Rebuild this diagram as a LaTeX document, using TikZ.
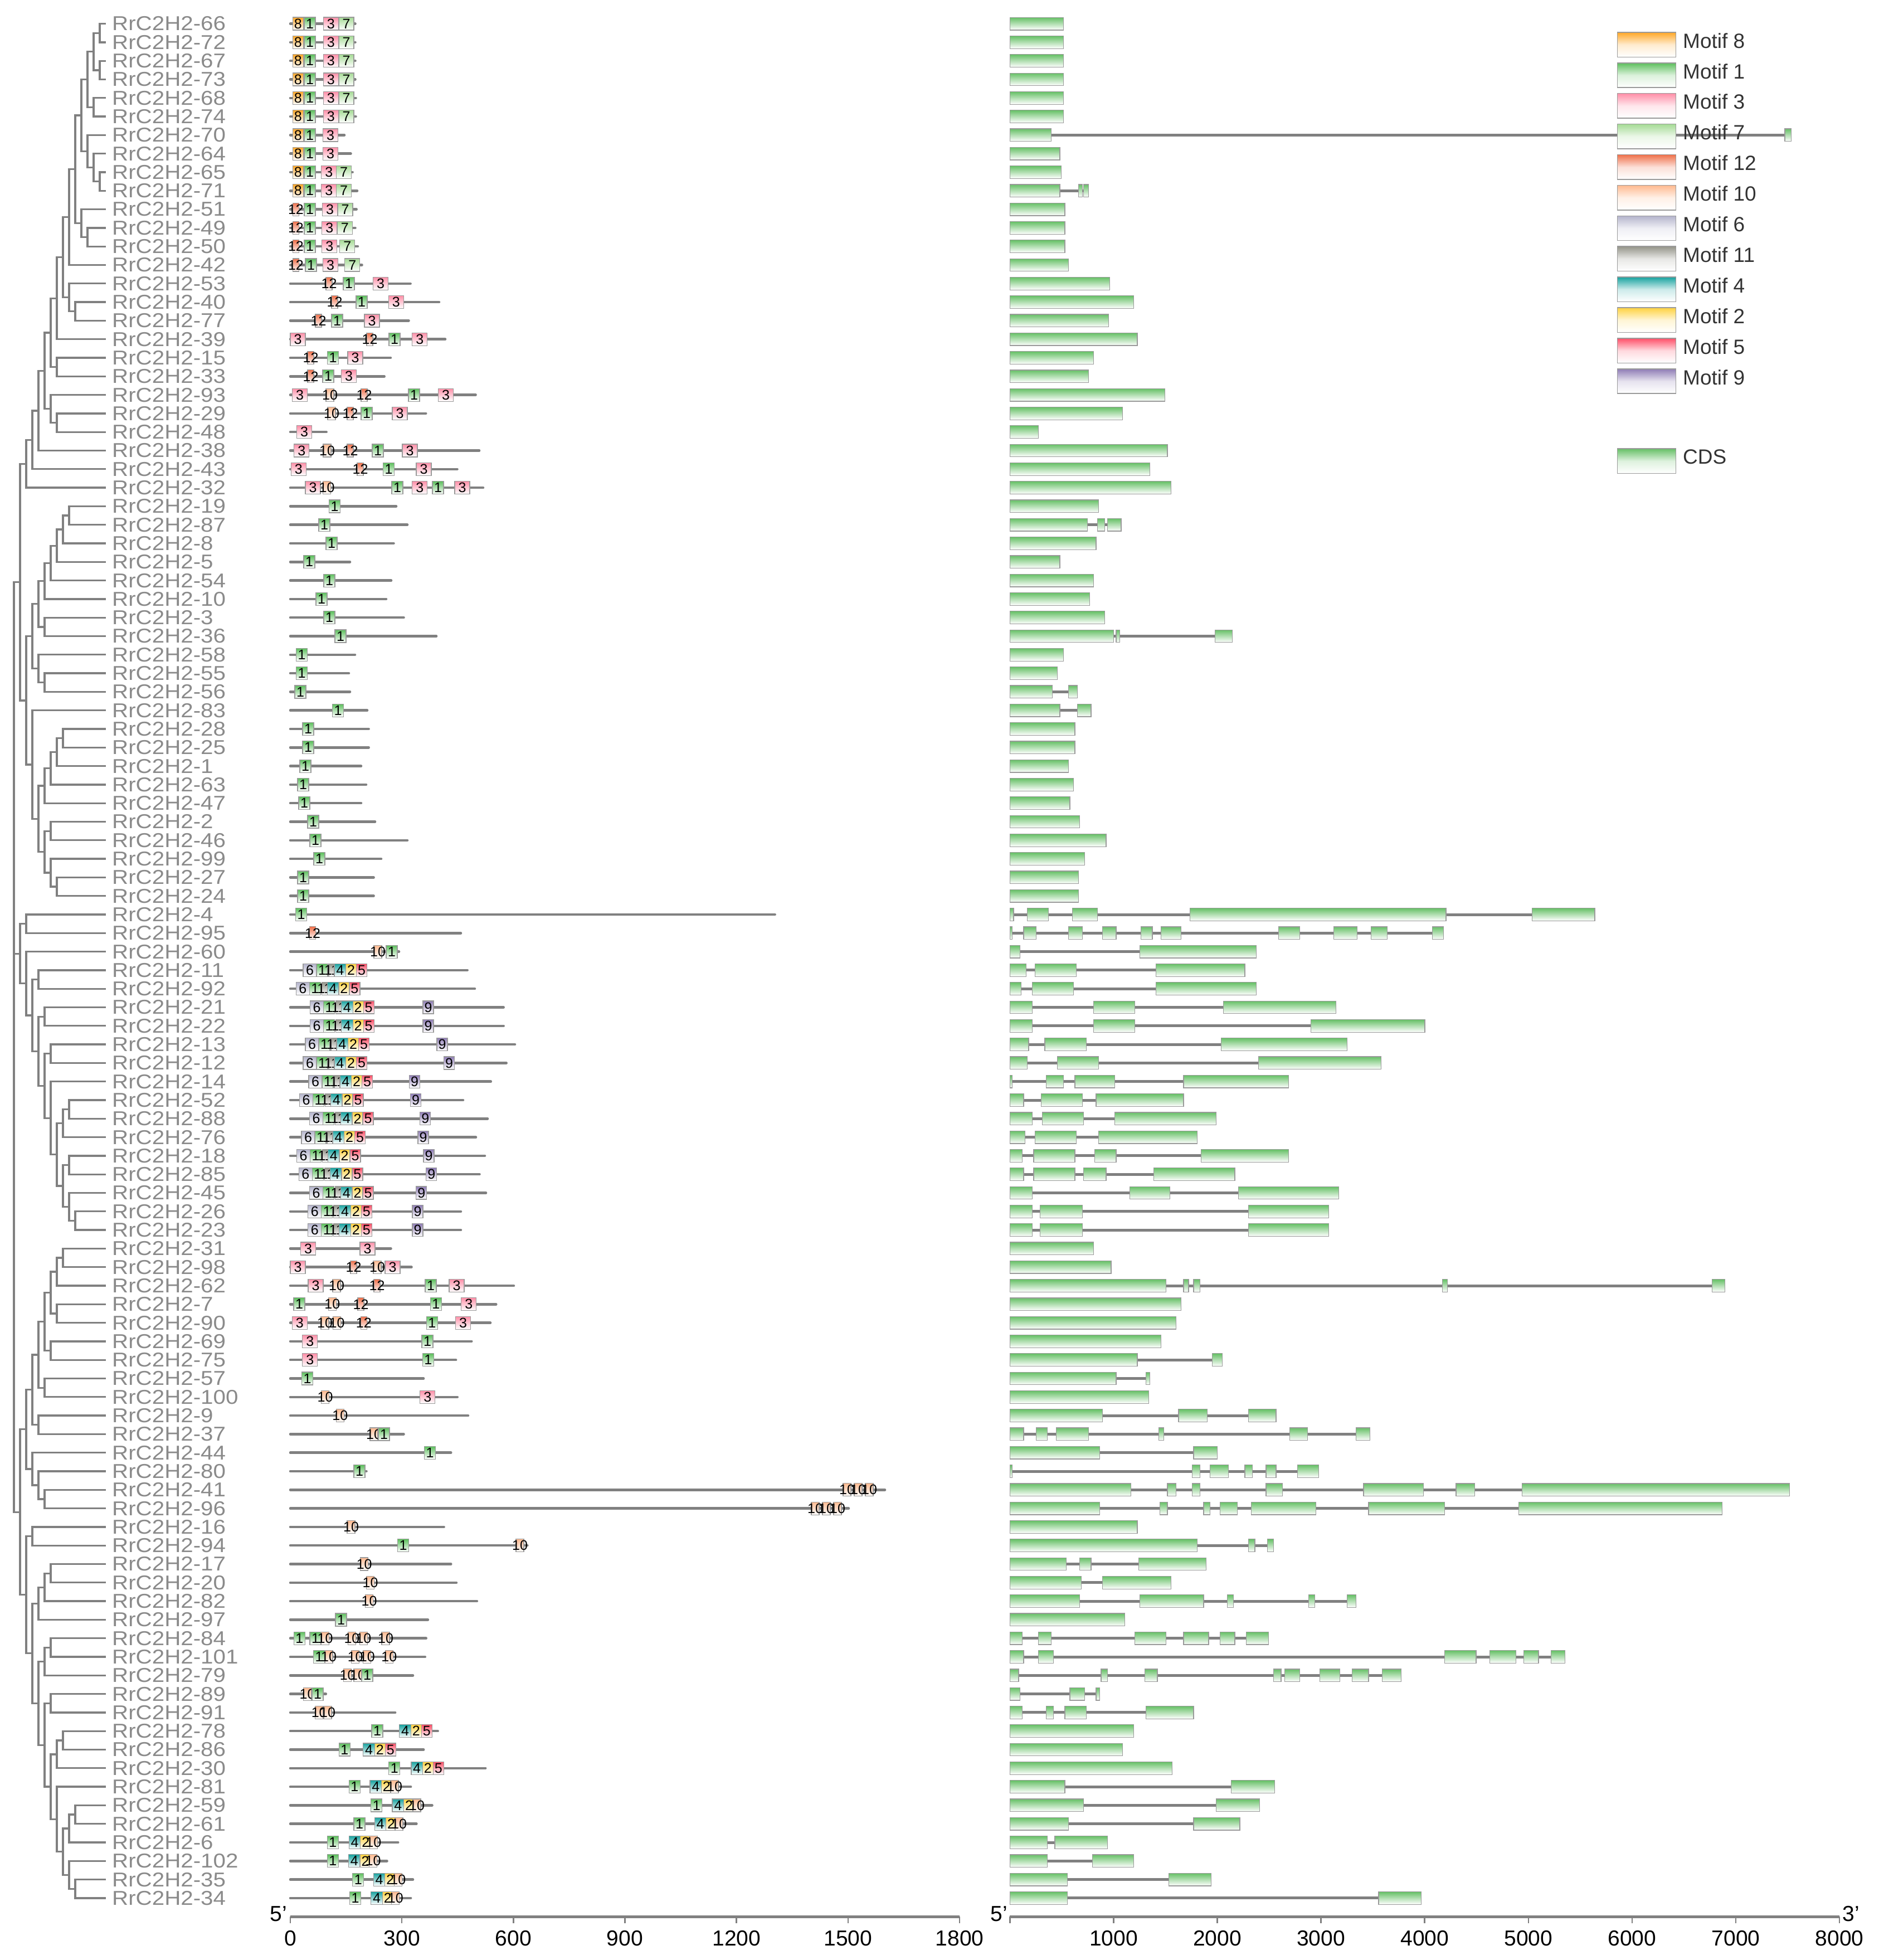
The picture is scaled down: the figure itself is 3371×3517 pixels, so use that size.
\documentclass[tikz,border=0pt]{standalone}
\usepackage{fontspec}
\setmainfont{Liberation Sans}
\newfontfamily\labfont[FakeStretch=1.12]{Liberation Sans}
\usetikzlibrary{calc}
\definecolor{treegray}{HTML}{808080}
\definecolor{labgray}{HTML}{8A8A8A}
\definecolor{boxgray}{HTML}{9A9A9A}
\definecolor{linegray}{HTML}{808080}
\definecolor{legtext}{HTML}{333333}
\definecolor{mc8}{HTML}{FFA726}
\definecolor{mc1}{HTML}{5CBF5C}
\definecolor{mc3}{HTML}{FF8FA8}
\definecolor{mc7}{HTML}{A5DB95}
\definecolor{mc12}{HTML}{F0704A}
\definecolor{mc10}{HTML}{FFB98F}
\definecolor{mc6}{HTML}{B4B4CC}
\definecolor{mc11}{HTML}{95958A}
\definecolor{mc4}{HTML}{18A3A0}
\definecolor{mc2}{HTML}{FFD23F}
\definecolor{mc5}{HTML}{FF4F68}
\definecolor{mc9}{HTML}{8E7CB5}
\definecolor{cds}{HTML}{66C066}
\newcommand\setmw[2]{\expandafter\def\csname mw#1\endcsname{#2}}
\setmw{8}{19}\setmw{1}{20}\setmw{3}{27}\setmw{7}{27}\setmw{12}{11}\setmw{10}{14}
\setmw{6}{24}\setmw{11}{10}\setmw{4}{20.5}\setmw{2}{19}\setmw{5}{19}\setmw{9}{19}
\tikzset{
 phylo/.style={draw=treegray, line width=3.3pt, line join=miter},
 leaflab/.style={anchor=west, inner sep=0pt, text=labgray, font=\labfont\fontsize{36}{42}\selectfont},
 pline/.style={draw=linegray, line width=4.5pt, line cap=round},
 gline/.style={draw=linegray, line width=5pt},
 mbox/.style={rectangle, draw=boxgray, line width=1.2pt, inner sep=0pt, minimum height=23pt, bottom color=white},
 mtxt/.style={inner sep=0pt, text=black, font=\fontsize{25}{30}\selectfont},
 ebox/.style={rectangle, draw=boxgray, line width=1.2pt, inner sep=0pt, minimum height=22.7pt, bottom color=white, top color=cds},
 lbox/.style={rectangle, draw=boxgray, line width=1.5pt, inner sep=0pt, minimum width=105pt, minimum height=44.4pt, bottom color=white},
 legtxt/.style={anchor=west, inner sep=0pt, text=legtext, font=\fontsize{37}{44}\selectfont},
 axline/.style={draw=linegray, line width=5pt},
 axtick/.style={draw=linegray, line width=2.5pt},
 axlab/.style={inner sep=0pt, text=black, font=\fontsize{39}{46}\selectfont},
}
\newcommand\cl[4]{%
  \path let \p1=(#2), \p2=(#3) in coordinate (#1) at ({(25+11*#4)*1pt},{(\y1+\y2)/2});%
  \draw[phylo] (#2) -| (#1) |- (#3);%
}
\newcommand\motbox[4]{%
  \pgfmathsetmacro\ww{\csname mw#3\endcsname}%
  \pgfmathsetmacro\xc{#4+0.5*\ww}%
  \node[mbox, top color=mc#3, minimum width=\ww pt] (mb#1-#2) at (\xc,\yy) {};%
  \node[mtxt] (mt#1-#2) at (mb#1-#2) {#3};%
}
\newcommand\prot[3]{%
  \pgfmathsetmacro\yy{42.6+(#1-1)*33.3}%
  \coordinate (ps#1) at (521,\yy);%
  \coordinate (pe#1) at (#2,\yy);%
  \draw[pline] (ps#1) -- (pe#1);%
  \foreach \t/\x [count=\k] in {#3}{\motbox{#1}{\k}{\t}{\x}}%
}
\newcommand\protB[4]{%
  \pgfmathsetmacro\yy{42.6+(#1-1)*33.3}%
  \coordinate (ps#1) at (521,\yy);%
  \coordinate (pe#1) at (#2,\yy);%
  \draw[pline] (ps#1) -- (pe#1);%
  \foreach \t/\o [count=\k] in {6/0,1/24,11/46,4/56,2/76.5,5/95.5}{\pgfmathsetmacro\xl{#3+\o}\motbox{#1}{\k}{\t}{\xl}}%
  \ifdim #4pt>1pt \motbox{#1}{9}{9}{#4}\fi
}
\newcommand\gene[2]{%
  \pgfmathsetmacro\yy{42.6+(#1-1)*33.3}%
  \foreach \s/\e in {#2}{\xdef\glast{\e}}%
  \coordinate (gs#1) at (1812.3,\yy);%
  \coordinate (ge#1) at ({2.2429*\glast},\yy);%
  \draw[gline] (gs#1) -- (ge#1);%
  \foreach \s/\e [count=\k] in {#2}{%
    \pgfmathsetmacro\xc{2.2429*(\s+\e)/2}%
    \pgfmathsetmacro\ww{2.2429*(\e-\s)}%
    \node[ebox, minimum width=\ww pt] (ex#1-\k) at (\xc,\yy) {};}%
}
\begin{document}
\begin{tikzpicture}[x=1pt,y=-1pt]
\useasboundingbox (0,0) rectangle (3371,3517);
\fill[white] (0,0) rectangle (3371,3517);
% ---------- leaves ----------
\foreach \n [count=\i] in {66,72,67,73,68,74,70,64,65,71,51,49,50,42,53,40,77,39,15,33,93,29,48,38,43,32,19,87,8,5,54,10,3,36,58,55,56,83,28,25,1,63,47,2,46,99,27,24,4,95,60,11,92,21,22,13,12,14,52,88,76,18,85,45,26,23,31,98,62,7,90,69,75,57,100,9,37,44,80,41,96,16,94,17,20,82,97,84,101,79,89,91,78,86,30,81,59,61,6,102,35,34}{%
  \pgfmathsetmacro\yy{42.6+(\i-1)*33.3}%
  \coordinate (t\i) at (190,\yy);%
  \node[leaflab] (lab\i) at (201,\yy) {RrC2H2-\n};%
}
% ---------- tree ----------
\cl{A1}{t1}{t2}{14}\cl{A2}{t3}{t4}{14}\cl{A3}{A1}{A2}{13}\cl{A4}{t5}{t6}{13}
\cl{A5}{A3}{A4}{12}\cl{A6}{t9}{t10}{14}\cl{A7}{t8}{A6}{13}\cl{A8}{t7}{A7}{12}
\cl{A9}{A5}{A8}{11}\cl{A10}{t12}{t13}{12}\cl{A11}{t11}{A10}{11}\cl{A12}{A9}{A11}{10}
\cl{A13}{A12}{t14}{9}\cl{A14}{t16}{t17}{10}\cl{A15}{t15}{A14}{9}\cl{A16}{A13}{A15}{8}
\cl{A17}{A16}{t18}{7}\cl{B1}{t19}{t20}{7}\cl{A18}{A17}{B1}{6}\cl{B2}{t22}{t23}{7}
\cl{B3}{t21}{B2}{6}\cl{A19}{A18}{B3}{5}\cl{A20}{A19}{t24}{4}\cl{A21}{A20}{t25}{3}
\cl{A22}{A21}{t26}{2}
\cl{C1}{t27}{t28}{9}\cl{C2}{C1}{t29}{8}\cl{C3}{C2}{t30}{7}\cl{C4}{C3}{t31}{6}
\cl{C5}{C4}{t32}{5}\cl{C7}{t33}{t34}{5}\cl{C6}{C5}{C7}{4}\cl{D1}{t36}{t37}{5}
\cl{D2}{t35}{D1}{4}\cl{C8}{C6}{D2}{3}
\cl{G1}{t39}{t40}{8}\cl{G2}{G1}{t41}{7}\cl{G3}{G2}{t42}{6}\cl{G4}{G3}{t43}{5}
\cl{G5}{t44}{t45}{6}\cl{G6}{t47}{t48}{7}\cl{G7}{t46}{G6}{6}\cl{G8}{G5}{G7}{5}
\cl{E2}{G4}{G8}{4}\cl{E}{t38}{E2}{3}\cl{C9}{C8}{E}{2}\cl{F1}{A22}{C9}{1}
\cl{H1}{t49}{t50}{2}\cl{I1}{t52}{t53}{4}\cl{I2}{t54}{t55}{5}\cl{I3}{t56}{t57}{6}
\cl{I4}{t59}{t60}{9}\cl{I5}{I4}{t61}{8}\cl{I6}{t62}{t63}{9}\cl{I7}{t65}{t66}{10}
\cl{I8}{t64}{I7}{9}\cl{I9}{I6}{I8}{8}\cl{I10}{I5}{I9}{7}\cl{I11}{t58}{I10}{6}
\cl{I12}{I3}{I11}{5}\cl{I13}{I2}{I12}{4}\cl{I14}{I1}{I13}{3}\cl{I15}{t51}{I14}{2}
\cl{H2}{H1}{I15}{1}
\cl{J1}{t67}{t68}{8}\cl{J2}{J1}{t69}{7}\cl{J4}{t70}{t71}{7}\cl{J3}{J2}{J4}{6}
\cl{J5}{t72}{t73}{6}\cl{J6}{J3}{J5}{5}\cl{J7}{t74}{t75}{5}\cl{J8}{J6}{J7}{4}
\cl{J9}{t76}{t77}{4}\cl{J10}{J8}{J9}{3}\cl{K1}{t80}{t81}{5}\cl{K2}{t79}{K1}{4}
\cl{K3}{t78}{K2}{3}\cl{K4}{J10}{K3}{2}
\cl{N1}{t82}{t83}{3}\cl{N2}{t84}{t85}{6}\cl{N3}{N2}{t86}{5}\cl{N4}{N3}{t87}{4}
\cl{Q1}{t88}{t89}{6}\cl{Q2}{Q1}{t90}{5}\cl{Q3}{t91}{t92}{6}\cl{Q4}{t93}{t94}{8}
\cl{Q5}{Q4}{t95}{7}\cl{Q6}{t97}{t98}{10}\cl{Q7}{Q6}{t99}{9}\cl{Q8}{t101}{t102}{10}
\cl{Q9}{t100}{Q8}{9}\cl{Q10}{Q7}{Q9}{8}\cl{Q11}{t96}{Q10}{7}\cl{Q12}{Q5}{Q11}{6}
\cl{Q13}{Q3}{Q12}{5}\cl{Q14}{Q2}{Q13}{4}\cl{N5}{N4}{Q14}{3}\cl{M}{N1}{N5}{2}
\cl{K5}{K4}{M}{1}
\path let \p1=(F1), \p2=(K5) in coordinate (root) at (25pt,{(\y1+\y2)/2});
\draw[phylo] (F1) -| (root) |- (K5);
\draw[phylo] (H2) -- (root |- H2);
% ---------- motifs ----------
\prot{1}{637.5}{8/525.4,1/546,3/580.4,7/608}
\prot{2}{637.5}{8/525.4,1/546,3/580.4,7/608}
\prot{3}{637.5}{8/525.4,1/546,3/580.4,7/608}
\prot{4}{637.5}{8/525.4,1/546,3/580.4,7/608}
\prot{5}{638.5}{8/525.4,1/546,3/580.4,7/608}
\prot{6}{638.5}{8/525.4,1/546,3/580.4,7/608}
\prot{7}{618}{8/525.4,1/546,3/579.5}
\prot{8}{629.5}{8/525.4,1/546,3/579.5}
\prot{9}{632.6}{8/525.4,1/546,3/576.8,7/603.6}
\prot{10}{641}{8/525.4,1/546,3/576.8,7/603.6}
\prot{11}{639.7}{12/525.4,1/546,3/578.6,7/606}
\prot{12}{637.5}{12/525.4,1/546,3/577.7,7/605.4}
\prot{13}{642}{12/525.4,1/546,3/577.7,7/609.8}
\prot{14}{649.5}{12/525.4,1/548,3/579.5,7/618.8}
\prot{15}{736.6}{12/585,1/616,3/669.6}
\prot{16}{788}{12/595,1/639,3/697.3}
\prot{17}{733.5}{12/566,1/595,3/654}
\prot{18}{799}{3/521,12/658,1/698,3/739.7}
\prot{19}{701}{12/552,1/587.5,3/624}
\prot{20}{689.7}{12/552,1/579,3/612.5}
\prot{21}{853.6}{3/524.5,10/585,12/648,1/733,3/786.6}
\prot{22}{764.3}{10/588,12/623,1/648,3/704}
\prot{23}{585.7}{3/532.6}
\prot{24}{860}{3/527.7,10/580,12/623,1/668,3/722}
\prot{25}{820.5}{3/522.3,12/641,1/687.5,3/747}
\prot{26}{867}{3/548,10/579.5,1/703,3/739.7,1/776,3/816}
\prot{27}{711}{1/590.6}
\prot{28}{731}{1/572}
\prot{29}{706.5}{1/585}
\prot{30}{628}{1/545}
\prot{31}{702}{1/581}
\prot{32}{693}{1/567}
\prot{33}{724.5}{1/581}
\prot{34}{783}{1/601}
\prot{35}{637}{1/531.6}
\prot{36}{626}{1/531.6}
\prot{37}{628}{1/529}
\prot{38}{659}{1/596.6}
\prot{39}{661.7}{1/543}
\prot{40}{661.7}{1/543}
\prot{41}{648}{1/538}
\prot{42}{657}{1/534}
\prot{43}{648}{1/536}
\prot{44}{673}{1/552}
\prot{45}{731}{1/556}
\prot{46}{684}{1/563}
\prot{47}{670.6}{1/534}
\prot{48}{670.6}{1/534}
\prot{49}{1390.6}{1/530.6}
\prot{50}{827}{12/555.5}
\prot{51}{716}{10/671,1/693}
\protB{52}{838.7}{544}{0}
\protB{53}{852}{531.4}{0}
\protB{54}{903.7}{556.6}{759}
\protB{55}{903.7}{556.6}{759}
\protB{56}{924}{548}{784}
\protB{57}{908.7}{544}{796.6}
\protB{58}{880.8}{554}{734.6}
\protB{59}{831}{537.5}{736.5}
\protB{60}{875}{555.5}{753.7}
\protB{61}{854}{541}{750}
\protB{62}{870}{532.5}{760}
\protB{63}{860.5}{536.4}{764.8}
\protB{64}{872}{555.5}{746.8}
\protB{65}{827}{552.8}{740}
\protB{66}{827}{552.8}{740}
\prot{67}{701.5}{3/539.5,3/646}
\prot{68}{738.5}{3/521,12/629,10/670,3/691}
\prot{69}{922}{3/553,10/597,12/671,1/763,3/806}
\prot{70}{890.3}{1/527,10/589.3,12/642,1/772.3,3/827.8}
\prot{71}{880}{3/524.2,10/576,10/597.6,12/647.3,1/765.3,3/817.6}
\prot{72}{846.3}{3/542.7,1/757}
\prot{73}{818.2}{3/542.7,1/758.3}
\prot{74}{760}{1/541.5}
\prot{75}{820.8}{10/576.5,3/753.8}
\prot{76}{840}{10/603.3}
\prot{77}{724.5}{10/664,1/679}
\prot{78}{809.3}{1/761.5}
\prot{79}{657.5}{1/635}
\prot{80}{1588}{10/1513,10/1533,10/1553}
\prot{81}{1523}{10/1456,10/1476,10/1496}
\prot{82}{796.6}{10/623}
\prot{83}{946.4}{1/713.6,10/926}
\prot{84}{809.3}{10/646.7}
\prot{85}{819}{10/657.5}
\prot{86}{855.9}{10/655.6}
\prot{87}{767.9}{1/602}
\prot{88}{764.7}{1/527.4,1/556,10/576.5,10/624.4,10/645.4,10/685}
\prot{89}{762.8}{1/562.5,10/583,10/630.7,10/651.8,10/691.3}
\prot{90}{741}{10/616.7,10/635,1/649}
\prot{91}{584.8}{10/544.6,1/560}
\prot{92}{709.2}{10/565.7,10/581}
\prot{93}{785.7}{1/667,4/716.8,2/737.2,5/756.4}
\prot{94}{760.2}{1/608.4,4/651.8,2/672.2,5/691.3}
\prot{95}{871.2}{1/697.7,4/737.9,2/758.3,5/777.4}
\prot{96}{737.2}{1/626.3,4/664,2/684.3,10/701}
\prot{97}{775.5}{1/665.8,4/704,2/724.5,10/741}
\prot{98}{747.4}{1/635,4/672.2,2/692.6,10/709}
\prot{99}{714.3}{1/587.4,4/626.3,2/646.7,10/663.3}
\prot{100}{694.5}{1/587.4,4/625.6,2/646,10/662.6}
\prot{101}{741}{1/632.7,4/670.3,2/690.7,10/707.3}
\prot{102}{737.2}{1/627.6,4/665.8,2/686.2,10/702.8}
% ---------- gene structures ----------
\gene{1}{808/851}\gene{2}{808/851}\gene{3}{808/851}\gene{4}{808/851}
\gene{5}{808/851}\gene{6}{808/851}
\gene{7}{808/841,1428/1433}
\gene{8}{808/848}\gene{9}{808/849}
\gene{10}{808/848,863/866,867/871}
\gene{11}{808/852}\gene{12}{808/852}\gene{13}{808/852}\gene{14}{808/855}
\gene{15}{808/888}\gene{16}{808/907}\gene{17}{808/887}\gene{18}{808/910}
\gene{19}{808/875}\gene{20}{808/871}\gene{21}{808/932}\gene{22}{808/898}
\gene{23}{808/831}\gene{24}{808/934}\gene{25}{808/920}\gene{26}{808/937}
\gene{27}{808/879}
\gene{28}{808/870,878/884,886/897}
\gene{29}{808/877}\gene{30}{808/848}\gene{31}{808/875}\gene{32}{808/872}
\gene{33}{808/884}
\gene{34}{808/891,893/896,972/986}
\gene{35}{808/851}\gene{36}{808/846}
\gene{37}{808/842,855/862}
\gene{38}{808/848,862/873}
\gene{39}{808/860}\gene{40}{808/860}\gene{41}{808/855}\gene{42}{808/859}
\gene{43}{808/856}\gene{44}{808/864}\gene{45}{808/885}\gene{46}{808/868}
\gene{47}{808/863}\gene{48}{808/863}
\gene{49}{808/811,822/839,858/878,952/1157,1226/1276}
\gene{50}{808/810,819/829,855/866,882/893,913/922,929/945,1023/1040,1067/1086,1097/1110,1146/1155}
\gene{51}{808/816,912/1005}
\gene{52}{808/821,828/861,925/996}
\gene{53}{808/817,826/859,925/1005}
\gene{54}{808/826,875/908,979/1069}
\gene{55}{808/826,875/908,1049/1140}
\gene{56}{808/823,836/869,977/1078}
\gene{57}{808/822,846/879,1007/1105}
\gene{58}{808/810,837/851,860/892,947/1031}
\gene{59}{808/819,833/866,877/947}
\gene{60}{808/826,834/867,892/973}
\gene{61}{808/820,828/861,879/958}
\gene{62}{808/818,827/860,876/893,961/1031}
\gene{63}{808/819,827/860,867/885,923/988}
\gene{64}{808/826,904/936,991/1071}
\gene{65}{808/826,832/866,999/1063}
\gene{66}{808/826,832/866,999/1063}
\gene{67}{808/875}\gene{68}{808/889}
\gene{69}{808/933,947/951,955/960,1154/1158,1370/1380}
\gene{70}{808/945}\gene{71}{808/941}\gene{72}{808/929}
\gene{73}{808/910,970/978}
\gene{74}{808/893,917/920}
\gene{75}{808/919}
\gene{76}{808/882,943/966,999/1021}
\gene{77}{808/819,829/838,845/871,927/931,1032/1046,1085/1096}
\gene{78}{808/880,955/974}
\gene{79}{808/810,954/960,968/983,996/1002,1013/1021,1038/1055}
\gene{80}{808/905,934/941,954/960,1013/1026,1091/1139,1165/1180,1218/1432}
\gene{81}{808/880,928/934,963/968,976/990,1001/1053,1095/1156,1215/1378}
\gene{82}{808/910}
\gene{83}{808/958,999/1004,1014/1019}
\gene{84}{808/853,864/873,911/965}
\gene{85}{808/865,882/937}
\gene{86}{808/864,912/963,982/987,1047/1052,1078/1085}
\gene{87}{808/900}
\gene{88}{808/818,831/841,908/933,947/967,976/988,997/1015}
\gene{89}{808/819,831/843,1156/1181,1192/1213,1219/1231,1241/1252}
\gene{90}{808/815,881/886,916/926,1019/1025,1028/1040,1056/1072,1082/1095,1106/1121}
\gene{91}{808/816,856/868,877/880}
\gene{92}{808/818,837/843,852/869,917/955}
\gene{93}{808/907}\gene{94}{808/898}\gene{95}{808/938}
\gene{96}{808/852,985/1020}
\gene{97}{808/867,973/1008}
\gene{98}{808/855,955/992}
\gene{99}{808/838,844/886}
\gene{100}{808/838,874/907}
\gene{101}{808/854,935/969}
\gene{102}{808/854,1103/1137}
% ---------- axes ----------
\coordinate (ma0) at (521,3439); \coordinate (ma1) at (1722,3439);
\draw[axline] (ma0) -- (ma1);
\foreach \k/\lab in {0/0,1/300,2/600,3/900,4/1200,5/1500,6/1800}{%
  \pgfmathsetmacro\tx{521+\k*200.17}%
  \draw[axtick] (\tx,3439) -- (\tx,3451);
  \node[axlab] (mlab\k) at (\tx,3478) {\lab};}
\node[axlab] (m5p) at (500,3434) {5'};
\coordinate (ga0) at (1812.3,3439); \coordinate (ga1) at (3301,3439);
\draw[axline] (ga0) -- (ga1);
\foreach \k in {0,...,8}{%
  \pgfmathsetmacro\tx{1812.3+\k*186.1}%
  \draw[axtick] (\tx,3439) -- (\tx,3451);}
\foreach \k in {1,...,8}{%
  \pgfmathsetmacro\tx{1812.3+\k*186.1}%
  \node[axlab] (glab\k) at (\tx,3478) {\k000};}
\node[axlab] (g5p) at (1793,3434) {5'};
\node[axlab] (g3p) at (3322,3434) {3'};
% ---------- legend ----------
\foreach \m [count=\i from 0] in {8,1,3,7,12,10,6,11,4,2,5,9}{%
  \pgfmathsetmacro\ly{57.9+\i*54.9}%
  \node[lbox, top color=mc\m, middle color=mc\m!22!white] (lb\m) at (2954.8,{\ly+22.2}) {};
  \node[legtxt] (lt\m) at (3020,{\ly+15}) {Motif \m};}
\node[lbox, top color=cds, middle color=cds!22!white] (lbcds) at (2954.8,827.2) {};
\node[legtxt] (ltcds) at (3020,820) {CDS};
\end{tikzpicture}
\end{document}
